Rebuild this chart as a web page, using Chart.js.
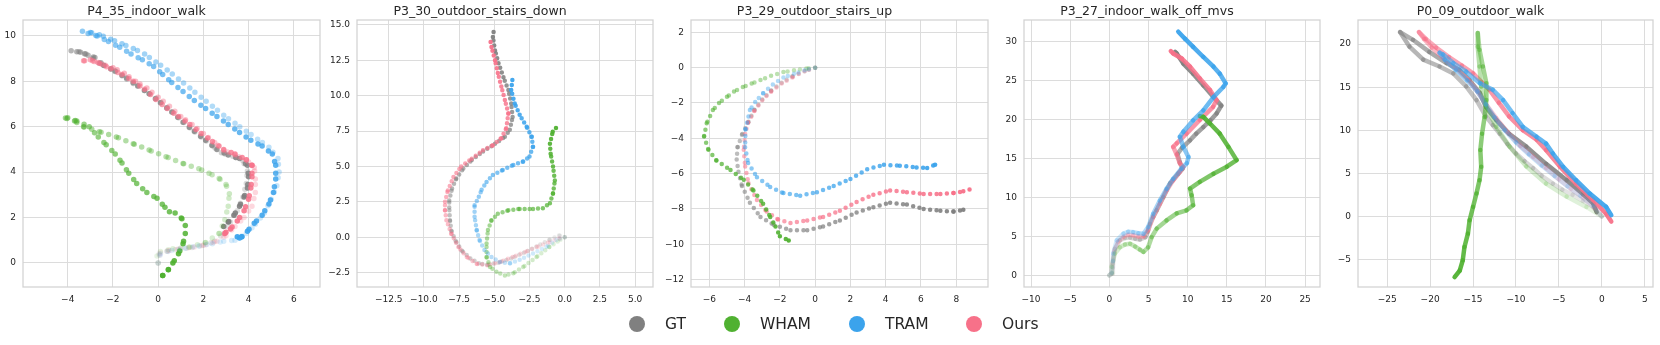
<!DOCTYPE html>
<html>
<head>
<meta charset="utf-8">
<script src="https://cdn.jsdelivr.net/npm/chart.js@4.4.0/dist/chart.umd.min.js"></script>
<style>
	html, body { margin: 0; padding: 0; background: #fff; }
	body { width: 1660px; height: 345px; position: relative; overflow: hidden; font-family: "DejaVu Sans", sans-serif; }
	canvas { position: absolute; top: 0; }
	.item { position: absolute; top: 312px; height: 24px; line-height: 24px; font-size: 15.5px; color: #262626; white-space: nowrap; }
	.dot { position: absolute; width: 16px; height: 16px; border-radius: 50%; top: 4px; }
</style>
</head>
<body>
<canvas id="c0"></canvas>
<canvas id="c1"></canvas>
<canvas id="c2"></canvas>
<canvas id="c3"></canvas>
<canvas id="c4"></canvas>
<div id="legend"></div>
<script>

var seriesNames = ["GT", "WHAM", "TRAM", "Ours"];
var seriesColors = ["#808080", "#50b131", "#3ba3ec", "#f77189"];
var titles = ["P4_35_indoor_walk", "P3_30_outdoor_stairs_down", "P3_29_outdoor_stairs_up", "P3_27_indoor_walk_off_mvs", "P0_09_outdoor_walk"];

// P4_35_indoor_walk (walk out and back)
var p1_gt = [[0,0],[0.05,0.4],[0.4,0.52],[0.9,0.6],[1.5,0.68],[2.0,0.78],[2.5,0.95],[2.9,1.3],[3.2,1.8],[3.5,2.3],[3.75,2.9],[3.9,3.5],[3.95,4.05],[3.75,4.5],[3.3,4.7],[2.8,4.85],[2.4,5.15],[1.9,5.55],[1.4,5.95],[0.9,6.4],[0.4,6.85],[-0.1,7.25],[-0.6,7.6],[-1.1,7.9],[-1.6,8.25],[-2.1,8.55],[-2.6,8.8],[-3.1,9.15],[-3.5,9.3],[-3.85,9.35],[-3.6,9.3],[-3.2,9.2],[-2.8,9.05],[-2.4,8.7],[-1.9,8.45],[-1.4,8.15],[-0.9,7.8],[-0.4,7.45],[0.1,7.05],[0.6,6.65],[1.1,6.2],[1.6,5.8],[2.1,5.4],[2.6,5.0],[3.1,4.75],[3.6,4.6],[3.95,4.3],[4.0,3.8],[3.95,3.3],[3.8,2.9],[3.6,2.5],[3.35,2.1],[3.1,1.8],[2.9,1.6],[2.8,1.55]];
var p1_wham = [[0,0],[-0.05,0.3],[0.1,0.5],[0.65,0.62],[1.4,0.7],[2.1,0.9],[2.7,1.3],[2.95,1.9],[3.1,2.5],[3.15,3.05],[3.0,3.45],[2.7,3.72],[2.25,3.95],[1.8,4.15],[1.1,4.38],[0.35,4.68],[-0.4,4.97],[-1.1,5.25],[-1.85,5.55],[-2.6,5.78],[-3.3,6.0],[-3.7,6.25],[-4.1,6.38],[-4.0,6.4],[-3.6,6.25],[-3.05,6.0],[-2.65,5.55],[-2.3,5.2],[-1.9,4.8],[-1.6,4.4],[-1.3,3.95],[-0.95,3.5],[-0.5,3.1],[-0.05,2.85],[0.3,2.45],[0.5,2.25],[0.75,2.2],[1.05,1.95],[1.2,1.65],[1.2,1.3],[1.1,0.85],[0.9,0.4],[0.65,0.0],[0.45,-0.3],[0.2,-0.55],[0.1,-0.55]];
var p1_tram = [[0,0],[0.1,0.4],[0.6,0.55],[1.2,0.65],[1.8,0.75],[2.4,0.85],[2.9,0.95],[3.4,1.0],[3.9,1.3],[4.3,1.7],[4.7,2.2],[5.0,2.8],[5.25,3.4],[5.35,4.0],[5.3,4.6],[4.9,5.1],[4.4,5.45],[3.9,5.8],[3.4,6.15],[2.9,6.5],[2.4,6.9],[1.9,7.3],[1.4,7.7],[0.9,8.1],[0.4,8.5],[-0.1,8.85],[-0.6,9.2],[-1.1,9.45],[-1.6,9.65],[-2.1,9.85],[-2.6,10.05],[-3.0,10.15],[-3.35,10.2],[-3.1,10.1],[-2.7,10.0],[-2.2,9.75],[-1.7,9.5],[-1.2,9.2],[-0.7,8.95],[-0.2,8.65],[0.2,8.3],[0.6,7.95],[1.1,7.55],[1.6,7.15],[2.1,6.8],[2.6,6.45],[3.1,6.1],[3.6,5.75],[4.1,5.4],[4.6,5.15],[5.05,4.8],[5.2,4.3],[5.2,3.7],[5.1,3.1],[4.9,2.6],[4.6,2.1],[4.25,1.75],[3.95,1.4],[3.7,1.15],[3.5,1.15],[3.6,1.1],[3.75,1.3]];
var p1_ours = [[0,0],[0.1,0.45],[0.5,0.55],[1.0,0.62],[1.6,0.7],[2.1,0.8],[2.6,0.95],[3.0,1.2],[3.4,1.6],[3.8,2.0],[4.15,2.5],[4.3,3.1],[4.3,3.7],[4.25,4.2],[3.9,4.55],[3.4,4.75],[2.9,4.95],[2.5,5.3],[2.0,5.7],[1.5,6.1],[1.0,6.45],[0.5,6.9],[0.0,7.3],[-0.5,7.7],[-1.0,8.0],[-1.5,8.35],[-2.0,8.6],[-2.5,8.75],[-2.9,8.9],[-3.3,8.9],[-3.0,8.95],[-2.6,8.8],[-2.1,8.55],[-1.6,8.3],[-1.1,8.0],[-0.6,7.65],[-0.1,7.2],[0.4,6.8],[0.9,6.45],[1.4,6.1],[1.9,5.7],[2.4,5.35],[2.9,5.0],[3.4,4.8],[3.9,4.55],[4.15,4.3],[4.15,3.8],[4.1,3.3],[4.0,2.8],[3.8,2.3],[3.5,1.85],[3.2,1.5],[3.0,1.35],[2.95,1.3],[2.9,1.35]];

// P3_30_outdoor_stairs_down
var p2_gt = [[0,0],[-0.4,0.12],[-1.1,-0.2],[-2.0,-0.65],[-2.9,-1.1],[-3.8,-1.5],[-4.7,-1.8],[-5.5,-1.95],[-6.1,-1.85],[-6.7,-1.5],[-7.3,-0.95],[-7.75,-0.25],[-8.05,0.45],[-8.15,1.2],[-8.2,2.1],[-8.2,2.6],[-8.0,3.45],[-7.7,4.15],[-7.2,4.85],[-6.6,5.45],[-5.8,6.05],[-4.95,6.6],[-4.25,7.1],[-3.9,7.6],[-3.7,8.5],[-3.8,9.45],[-4.0,10.4],[-4.35,11.3],[-4.7,12.3],[-4.95,13.2],[-5.1,14.15],[-5.05,14.5]];
var p2_wham = [[0,0],[-0.5,-0.3],[-1.1,-0.7],[-2.0,-1.4],[-2.95,-2.1],[-3.65,-2.55],[-4.25,-2.7],[-4.85,-2.45],[-5.3,-2.1],[-5.55,-1.4],[-5.55,-0.45],[-5.45,0.5],[-5.2,1.2],[-4.75,1.65],[-4.0,1.9],[-3.2,2.0],[-2.25,2.0],[-1.55,2.05],[-1.05,2.4],[-0.83,3.1],[-0.7,4.0],[-0.83,5.0],[-1.0,5.9],[-1.05,6.6],[-0.85,7.45],[-0.55,7.8]];
var p2_tram = [[0,0],[-0.6,-0.2],[-1.3,-0.68],[-2.25,-1.15],[-3.2,-1.6],[-3.9,-1.85],[-4.6,-1.75],[-5.2,-1.4],[-5.7,-0.9],[-6.05,-0.2],[-6.25,0.5],[-6.4,1.45],[-6.4,2.25],[-6.1,2.85],[-5.9,3.35],[-5.55,3.9],[-5.1,4.4],[-4.4,4.75],[-3.65,5.1],[-2.95,5.35],[-2.5,5.7],[-2.25,6.4],[-2.35,7.1],[-2.7,7.8],[-3.2,8.65],[-3.55,9.45],[-3.8,10.4],[-3.7,11.25]];
var p2_ours = [[0,0],[-0.4,-0.1],[-1.2,-0.4],[-2.0,-0.7],[-2.8,-1.05],[-3.7,-1.4],[-4.6,-1.75],[-5.5,-1.98],[-6.25,-1.88],[-6.95,-1.4],[-7.55,-0.7],[-8.05,0.25],[-8.4,1.2],[-8.5,1.9],[-8.5,2.5],[-8.3,3.3],[-7.9,4.25],[-7.35,5.0],[-6.6,5.55],[-5.8,6.15],[-5.1,6.5],[-4.5,7.0],[-4.15,7.7],[-4.0,8.75],[-4.25,9.7],[-4.5,10.65],[-4.75,11.6],[-4.95,12.5],[-5.2,13.45],[-5.3,14.0]];

// P3_29_outdoor_stairs_up
var p3_gt = [[0,0],[-0.6,-0.2],[-1.3,-0.5],[-1.9,-0.85],[-2.5,-1.3],[-3.0,-1.8],[-3.45,-2.4],[-3.8,-3.1],[-4.15,-3.8],[-4.4,-4.5],[-4.45,-5.2],[-4.35,-5.9],[-4.15,-6.7],[-3.7,-7.65],[-3.1,-8.45],[-2.35,-8.9],[-1.4,-9.2],[-0.45,-9.2],[0.45,-9.0],[1.4,-8.65],[2.35,-8.2],[3.3,-7.9],[4.25,-7.65],[5.2,-7.75],[6.15,-8.0],[7.1,-8.1],[7.85,-8.15],[8.4,-8.05],[8.7,-7.9]];
var p3_wham = [[0,0],[-0.5,-0.05],[-1.2,-0.15],[-1.8,-0.25],[-2.5,-0.45],[-3.1,-0.7],[-3.6,-0.9],[-4.1,-1.1],[-4.6,-1.35],[-5.0,-1.65],[-5.45,-2.0],[-5.8,-2.4],[-6.15,-3.15],[-6.3,-3.9],[-6.05,-4.65],[-5.6,-5.25],[-4.8,-5.8],[-4.05,-6.35],[-3.5,-6.95],[-2.95,-7.7],[-2.55,-8.45],[-2.25,-9.0],[-2.0,-9.55],[-1.5,-9.78],[-1.35,-9.82]];
var p3_tram = [[0,0],[-0.6,-0.15],[-1.2,-0.35],[-1.8,-0.55],[-2.4,-0.95],[-2.95,-1.45],[-3.4,-1.95],[-3.7,-2.4],[-3.95,-3.5],[-3.97,-4.5],[-3.8,-5.4],[-3.3,-6.2],[-2.55,-6.75],[-1.8,-7.1],[-0.85,-7.25],[0.1,-7.05],[1.05,-6.7],[2.0,-6.3],[2.95,-5.75],[3.9,-5.5],[4.8,-5.55],[5.75,-5.65],[6.35,-5.68],[6.8,-5.5],[7.1,-5.4]];
var p3_ours = [[0,0],[-0.6,-0.2],[-1.3,-0.55],[-1.9,-0.9],[-2.5,-1.35],[-3.0,-1.85],[-3.45,-2.45],[-3.8,-3.1],[-3.97,-3.75],[-4.05,-4.65],[-3.97,-5.6],[-3.78,-6.55],[-3.3,-7.5],[-2.75,-8.15],[-2.1,-8.6],[-1.4,-8.8],[-0.45,-8.65],[0.45,-8.45],[1.4,-8.1],[2.35,-7.6],[3.3,-7.2],[4.25,-6.95],[5.2,-7.05],[6.15,-7.15],[7.1,-7.15],[7.85,-7.1],[8.4,-7.0],[8.9,-6.85]];

// P3_27_indoor_walk_off_mvs
var p4_gt = [[0,0],[0.35,0.2],[0.45,1.0],[0.5,1.9],[0.7,3.4],[1.35,4.5],[2.0,4.8],[2.65,4.85],[3.3,4.7],[3.9,4.6],[4.6,4.9],[4.9,5.6],[5.2,6.6],[5.6,7.5],[6.05,8.35],[6.9,10.05],[7.75,11.8],[8.8,13.05],[9.35,13.7],[9.0,14.5],[8.7,15.6],[9.3,16.4],[10.3,17.35],[11.1,18.2],[12.0,19.05],[12.9,19.9],[13.7,20.8],[14.3,21.8],[13.3,22.9],[12.0,24.4],[10.7,25.9],[9.45,27.2],[8.6,28.5],[8.4,28.7]];
var p4_wham = [[0,0],[0.35,0.3],[0.3,1.1],[0.7,2.8],[1.35,3.6],[2.0,3.95],[2.65,4.05],[3.3,3.7],[3.9,3.3],[4.35,3.0],[4.95,3.6],[5.4,4.9],[6.05,6.0],[7.3,7.05],[8.6,7.95],[9.85,8.35],[10.7,9.0],[10.5,10.3],[10.3,11.15],[11.55,12.0],[13.3,13.05],[15.0,13.95],[16.25,14.8],[15.2,16.5],[14.1,18.2],[12.85,19.5],[12.0,20.35],[11.55,20.45]];
var p4_tram = [[0,0],[0.3,0.3],[0.45,1.8],[0.5,2.8],[0.95,4.5],[1.8,5.35],[2.4,5.6],[3.05,5.55],[3.7,5.4],[4.35,5.35],[4.95,6.2],[5.6,7.9],[6.45,9.6],[7.3,11.1],[8.15,12.4],[9.2,13.7],[9.9,14.4],[10.1,15.2],[9.45,16.5],[9.0,17.8],[9.45,18.45],[10.7,19.9],[12.0,21.2],[13.3,22.9],[14.55,24.2],[14.85,24.65],[14.1,25.9],[13.3,26.8],[12.0,28.05],[10.7,29.35],[9.65,30.4],[8.8,31.3]];
var p4_ours = [[0,0],[0.3,0.3],[0.4,1.5],[0.6,3.0],[1.1,4.3],[1.8,4.95],[2.4,5.2],[3.05,5.15],[3.7,5.0],[4.35,5.0],[4.95,5.8],[5.6,7.5],[6.45,9.2],[7.3,10.9],[8.15,12.2],[9.0,13.3],[9.45,13.9],[9.0,14.4],[8.6,15.5],[8.15,16.5],[8.6,16.95],[9.85,18.2],[11.55,19.95],[13.25,21.65],[13.7,22.5],[12.85,23.8],[11.55,25.3],[10.3,26.8],[9.25,27.85],[8.15,28.5],[7.85,28.8]];

// P0_09_outdoor_walk (walk out and back)
var p5_gt = [[0,0],[-1.0,1.1],[-2.2,1.8],[-3.4,2.5],[-4.6,3.1],[-5.7,3.8],[-7.0,4.7],[-8.0,5.6],[-9.0,6.4],[-10.0,7.3],[-11.0,8.4],[-11.9,9.6],[-12.7,10.6],[-13.5,11.6],[-14.6,13.5],[-15.8,15.1],[-17.3,16.6],[-18.9,17.4],[-20.8,18.2],[-22.4,19.7],[-23.5,21.4],[-22.0,20.5],[-20.1,19.1],[-18.1,17.8],[-16.6,17.0],[-15.4,15.8],[-14.2,14.3],[-13.5,12.7],[-12.3,11.2],[-10.8,9.6],[-8.8,8.1],[-6.5,6.1],[-4.1,4.2],[-2.2,2.6],[-1.0,1.5],[-0.6,0.5]];
var p5_wham = [[0,0],[-1.8,1.1],[-4.1,2.3],[-6.5,3.8],[-8.8,5.8],[-10.75,8.1],[-12.3,10.4],[-13.45,12.7],[-14.05,15.05],[-14.25,17.4],[-14.45,19.7],[-14.45,21.3],[-14.25,19.35],[-13.85,17.4],[-13.45,15.45],[-13.45,13.5],[-13.65,11.55],[-13.95,9.6],[-14.15,7.7],[-14.05,5.75],[-14.25,4.2],[-14.6,2.65],[-15.0,1.1],[-15.4,-0.45],[-15.6,-2.0],[-16.0,-3.55],[-16.2,-5.1],[-16.55,-6.3],[-17.15,-7.05]];
var p5_tram = [[0,0],[-1.0,1.2],[-2.5,2.4],[-4.0,3.5],[-5.5,4.7],[-7.0,5.9],[-8.5,7.2],[-10.0,8.6],[-11.3,10.0],[-12.5,11.5],[-13.5,13.0],[-14.5,14.5],[-15.7,15.8],[-17.0,17.0],[-18.3,18.2],[-18.9,19.0],[-18.5,18.8],[-17.3,17.8],[-15.8,16.8],[-14.2,15.45],[-12.7,14.7],[-11.5,13.5],[-10.4,12.0],[-9.2,10.4],[-7.6,9.25],[-6.5,8.45],[-5.7,7.3],[-4.5,5.75],[-3.0,4.2],[-1.4,2.65],[0.5,1.1],[1.1,0.15]];
var p5_ours = [[0,0],[-0.9,1.0],[-2.2,2.2],[-3.6,3.2],[-5.0,4.3],[-6.5,5.6],[-8.0,6.9],[-9.5,8.2],[-11.0,9.8],[-12.3,11.4],[-13.4,12.9],[-14.5,14.5],[-15.6,15.9],[-17.0,17.2],[-18.5,18.4],[-19.8,19.6],[-20.7,20.6],[-21.3,21.4],[-20.5,20.6],[-19.3,19.6],[-17.8,18.5],[-16.3,17.5],[-15.0,16.6],[-14.0,15.6],[-13.1,14.7],[-12.0,13.2],[-10.8,11.6],[-9.2,10.0],[-7.6,8.9],[-6.5,7.7],[-4.9,5.8],[-3.0,3.8],[-1.0,1.9],[0.5,0.3],[1.1,-0.6]];

var panelSeries = [
	[p1_gt, p1_wham, p1_tram, p1_ours],
	[p2_gt, p2_wham, p2_tram, p2_ours],
	[p3_gt, p3_wham, p3_tram, p3_ours],
	[p4_gt, p4_wham, p4_tram, p4_ours],
	[p5_gt, p5_wham, p5_tram, p5_ours]
];

// axis limits and tick labels
var xLimits = [[-5.98, 7.16], [-14.75, 6.27], [-7.04, 9.8], [-10.9, 26.9], [-28.4, 5.96]];
var yLimits = [[-1.06, 10.7], [-3.52, 15.35], [-12.42, 2.7], [-1.5, 32.8], [-8.2, 22.8]];
var xTicks = [[-4, -2, 0, 2, 4, 6], [-12.5, -10, -7.5, -5, -2.5, 0, 2.5, 5], [-6, -4, -2, 0, 2, 4, 6, 8], [-10, -5, 0, 5, 10, 15, 20, 25], [-25, -20, -15, -10, -5, 0, 5]];
var yTicks = [[0, 2, 4, 6, 8, 10], [-2.5, 0, 2.5, 5, 7.5, 10, 12.5, 15], [-12, -10, -8, -6, -4, -2, 0, 2], [0, 5, 10, 15, 20, 25, 30], [-5, 0, 5, 10, 15, 20]];
var tickDecimals = [0, 1, 0, 0, 0];

// layout (pixels) and styles
var plotLeft = [23, 357, 691, 1024, 1358];
var plotRight = [320, 653, 988, 1320, 1653];
var axisW = 50, canvasH = 312, axisH = 25;
var dotSize = [5.5, 4.5, 4.5, 4.5, 4.5];
var dotGap = [8, 5, 6.5, 0, 0];
var fadeStart = [0.12, 0.15, 0.3, 0.15, 0.15];
var drawOrder = [4, 2, 1, 3];
var legendX = [637, 732, 857, 974];

Chart.defaults.font.family = "'DejaVu Sans', sans-serif";
Chart.defaults.color = '#262626';

function withAlpha(hex, a){
	var r = parseInt(hex.substr(1, 2), 16), g = parseInt(hex.substr(3, 2), 16), b = parseInt(hex.substr(5, 2), 16);
	return 'rgba(' + r + ',' + g + ',' + b + ',' + a.toFixed(3) + ')';
}

function fadeColor(hex, a0){
	return function(ctx){
		var n = ctx.chart.data.datasets[ctx.datasetIndex].data.length;
		var t = ctx.p0DataIndex / Math.max(n - 2, 1);
		return withAlpha(hex, a0 + (0.95 - a0) * t);
	};
}

function tickLabel(dec){
	return function(v){ return Number(v).toFixed(dec).replace('-', '\u2212'); };
}

var framePlugin = {
	id: 'frame',
	beforeDatasetsDraw: function(chart){
		var a = chart.chartArea, c = chart.ctx;
		c.save();
		c.strokeStyle = '#d2d2d2';
		c.lineWidth = 1.25;
		c.strokeRect(a.left, a.top, a.right - a.left, a.bottom - a.top);
		c.restore();
	}
};

function init_panel(i){
	var el = document.getElementById('c' + i);
	// canvas is symmetric round the plot so the title centres on it
	var w = plotRight[i] - plotLeft[i] + 2 * axisW;
	el.width = w;
	el.height = canvasH;
	el.style.left = (plotLeft[i] - axisW) + 'px';
	el.style.width = w + 'px';
	el.style.height = canvasH + 'px';

	var datasets = [];
	for (var s = 0; s < 4; s++) {
		var dotted = dotGap[i] > 0;
		datasets.push({
			label: seriesNames[s],
			data: panelSeries[i][s].map(function(p){ return {x: p[0], y: p[1]}; }),
			showLine: true,
			pointRadius: 0,
			pointHoverRadius: 0,
			borderColor: seriesColors[s],
			borderWidth: dotSize[i],
			borderCapStyle: 'round',
			borderJoinStyle: 'round',
			borderDash: dotted ? [0, dotGap[i]] : [],
			segment: { borderColor: fadeColor(seriesColors[s], fadeStart[i]) },
			order: drawOrder[s],
			tension: 0
		});
	}

	new Chart(el, {
		type: 'scatter',
		data: { datasets: datasets },
		options: {
			responsive: false,
			animation: false,
			devicePixelRatio: 1,
			layout: { padding: { left: 0, right: axisW, top: 0, bottom: 0 } },
			plugins: {
				legend: { display: false },
				tooltip: { enabled: false },
				title: {
					display: true,
					text: titles[i],
					color: '#262626',
					font: { size: 12.5, weight: 'normal' },
					padding: { top: 4, bottom: 1 }
				}
			},
			scales: {
				x: {
					type: 'linear',
					min: xLimits[i][0],
					max: xLimits[i][1],
					afterBuildTicks: function(sc){ sc.ticks = xTicks[i].map(function(v){ return {value: v}; }); },
					afterFit: function(sc){ sc.height = axisH; },
					grid: { color: '#dcdcdc', lineWidth: 1, drawTicks: false },
					border: { display: false },
					ticks: { padding: 7, maxRotation: 0, autoSkip: false, font: { size: 9 }, callback: tickLabel(tickDecimals[i]) }
				},
				y: {
					type: 'linear',
					min: yLimits[i][0],
					max: yLimits[i][1],
					afterBuildTicks: function(sc){ sc.ticks = yTicks[i].map(function(v){ return {value: v}; }); },
					afterFit: function(sc){ sc.width = axisW; },
					grid: { color: '#dcdcdc', lineWidth: 1, drawTicks: false },
					border: { display: false },
					ticks: { padding: 7, autoSkip: false, font: { size: 9 }, callback: tickLabel(tickDecimals[i]) }
				}
			}
		},
		plugins: [framePlugin]
	});
}

function init_legend(){
	var box = document.getElementById('legend');
	for (var s = 0; s < 4; s++) {
		var item = document.createElement('div');
		item.className = 'item';
		item.style.left = (legendX[s] - 8) + 'px';
		var dot = document.createElement('span');
		dot.className = 'dot';
		dot.style.left = '0px';
		dot.style.background = seriesColors[s];
		var txt = document.createElement('span');
		txt.style.marginLeft = '36px';
		txt.textContent = seriesNames[s];
		item.appendChild(dot);
		item.appendChild(txt);
		box.appendChild(item);
	}
}

for (var i = 0; i < 5; i++) { init_panel(i); }
init_legend();

</script>
</body>
</html>
